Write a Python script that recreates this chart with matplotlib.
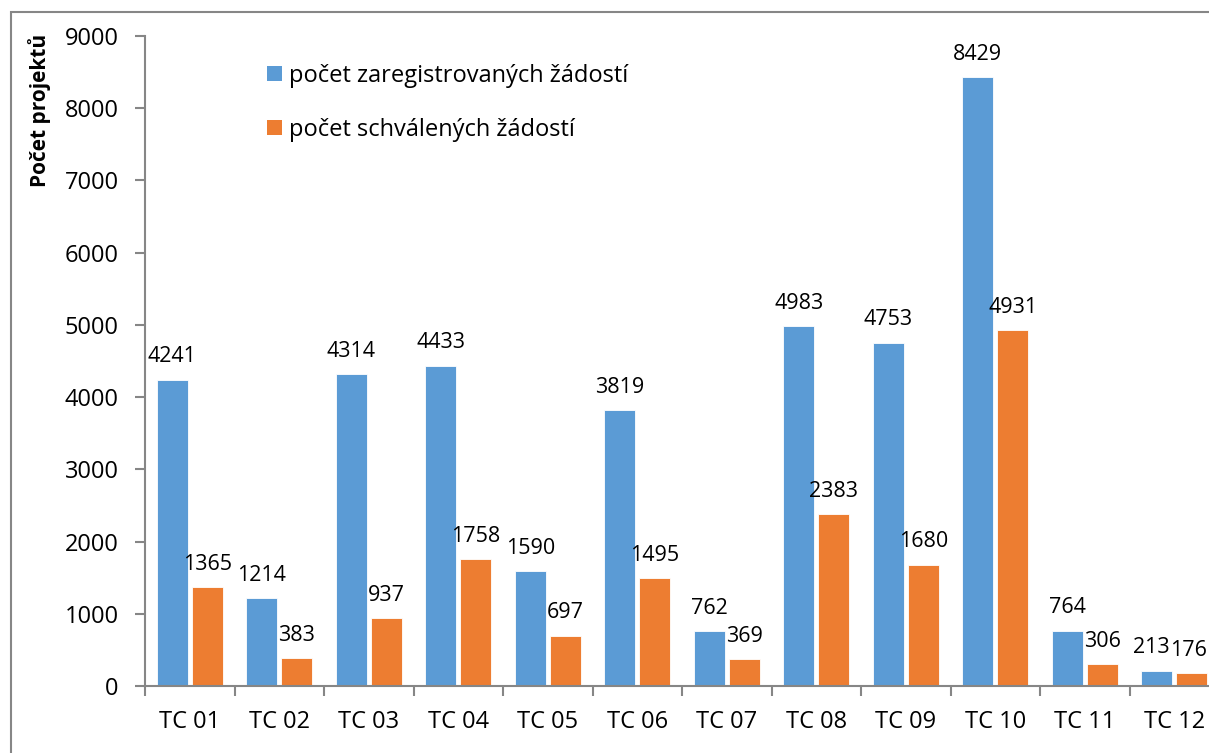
import matplotlib
matplotlib.use("Agg")
import matplotlib.pyplot as plt
from matplotlib.patches import Rectangle, Patch
import numpy as np

plt.rcParams['font.family'] = ['Open Sans', 'DejaVu Sans']

categories = ["TC 01", "TC 02", "TC 03", "TC 04", "TC 05", "TC 06",
              "TC 07", "TC 08", "TC 09", "TC 10", "TC 11", "TC 12"]
registered = [4241, 1214, 4314, 4433, 1590, 3819, 762, 4983, 4753, 8429, 764, 213]
approved = [1365, 383, 937, 1758, 697, 1495, 369, 2383, 1680, 4931, 306, 176]
series_names = ["počet zaregistrovaných žádostí", "počet schválených žádostí"]
y_label = "Počet projektů"

BLUE = "#5B9BD5"
ORANGE = "#ED7D31"
GRAY = "#868686"
FS = 17
FS_LAB = 15.5

W, H = 1209, 753
fig = plt.figure(figsize=(W / 100, H / 100), dpi=100)

# outer chart frame (partly outside the image)
fig.patches.append(Rectangle((10.5 / W, -0.2), 1.3, 1 - 11.5 / H + 0.2,
                             transform=fig.transFigure, fill=False,
                             edgecolor=GRAY, linewidth=1.5))

left, right = 145 / W, 1219 / W
bottom, top = 1 - 686 / H, 1 - 36 / H
ax = fig.add_axes([left, bottom, right - left, top - bottom])

x = np.arange(len(categories))
bw = 0.345
off = 0.195
b1 = ax.bar(x - off, registered, bw, color=BLUE, edgecolor="white", linewidth=0.6,
            label=series_names[0])
b2 = ax.bar(x + off, approved, bw, color=ORANGE, edgecolor="white", linewidth=0.6,
            label=series_names[1])

n = len(categories)
for si, (rects, vals) in enumerate(((b1, registered), (b2, approved))):
    for i, (r, v) in enumerate(zip(rects, vals)):
        dx = 0
        if i == n - 1:
            dx = -3.6 if si == 0 else -2.6
        ax.annotate(str(v), (r.get_x() + r.get_width() / 2, v),
                    xytext=(dx, 12.5), textcoords="offset points",
                    ha="center", va="baseline", fontsize=FS_LAB, color="black")

ax.set_xlim(-0.5, n - 0.5)
ax.set_ylim(0, 9000)
ax.set_yticks(np.arange(0, 9001, 1000))
ax.set_xticks(x)
ax.set_xticklabels(categories, fontsize=FS)
ax.set_xticks(np.arange(-0.5, n, 1), minor=True)
ax.tick_params(axis="x", which="major", length=0, pad=17)
ax.tick_params(axis="x", which="minor", length=7, width=1.5, color=GRAY)
ax.tick_params(axis="y", length=7, width=1.5, color=GRAY, labelsize=FS, pad=12)

for s in ("top", "right"):
    ax.spines[s].set_visible(False)
for s in ("left", "bottom"):
    ax.spines[s].set_color(GRAY)
    ax.spines[s].set_linewidth(1.5)

fig.text(40 / W, 1 - 110 / H, y_label, rotation=90, ha="center", va="center",
         fontsize=15, fontweight="bold")

handles = [Patch(facecolor=BLUE), Patch(facecolor=ORANGE)]
fig.legend(handles, series_names, loc="upper left",
           bbox_to_anchor=(267 / W, 1 - 64 / H), frameon=False, fontsize=FS,
           handlelength=0.62, handleheight=0.62, handletextpad=0.3,
           labelspacing=1.25, borderaxespad=0, borderpad=0)

fig.savefig("out.png", dpi=100)
